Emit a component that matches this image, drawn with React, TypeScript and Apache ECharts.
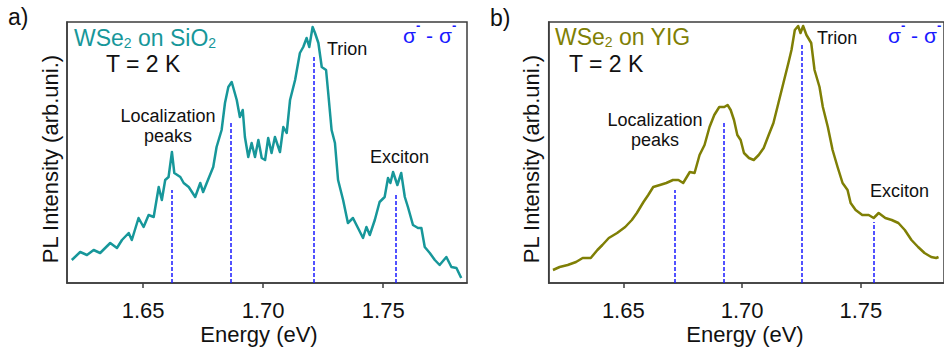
import React, { useEffect, useRef } from "react";
import * as echarts from "echarts";

// ---- Data (energy in eV, intensity in arbitrary units) ----
const energyA = [1.6203,1.6238,1.6266,1.6294,1.6321,1.6363,1.6391,1.6412,1.644,1.6453,1.6481,1.6502,1.6523,1.6544,1.6565,1.6578,1.6592,1.6606,1.662,1.663,1.6655,1.6669,1.669,1.6717,1.6738,1.675,1.6765,1.6792,1.6806,1.6827,1.6841,1.6855,1.6869,1.689,1.6903,1.6915,1.6924,1.6938,1.6952,1.6966,1.698,1.6994,1.7008,1.7021,1.7035,1.7049,1.707,1.7084,1.7098,1.7112,1.7133,1.7153,1.7167,1.7181,1.7192,1.7206,1.7216,1.723,1.7244,1.7262,1.7271,1.7285,1.7299,1.7312,1.7333,1.7353,1.7374,1.7395,1.7416,1.743,1.7444,1.7465,1.7485,1.7506,1.752,1.753,1.7541,1.7559,1.7575,1.759,1.7603,1.7624,1.7645,1.7659,1.7673,1.7694,1.7715,1.7735,1.7763,1.7784,1.7805,1.7825];
const intensityA = [23,31,28,33,30,40,35,43,50,43,65,56,68,66,96,83,103,106,131,110,106,100,96,86,100,91,100,116,136,153,180,196,201,183,166,173,146,126,140,126,143,125,123,145,130,146,131,156,150,183,203,230,236,245,236,256,250,240,216,213,190,153,140,103,83,60,65,55,45,56,48,63,81,86,105,100,111,98,110,86,76,58,55,55,36,30,23,18,26,16,15,5];

const energyB = [1.6204,1.6232,1.6266,1.6301,1.6329,1.6363,1.6391,1.6412,1.6439,1.6474,1.6508,1.6536,1.6557,1.6585,1.6605,1.6626,1.6654,1.6681,1.6709,1.6732,1.6752,1.678,1.68,1.6821,1.6842,1.6863,1.6883,1.6904,1.6925,1.6939,1.6952,1.6966,1.698,1.6994,1.7008,1.7029,1.7049,1.707,1.7091,1.7112,1.7132,1.7153,1.7174,1.7195,1.7208,1.7222,1.7236,1.7246,1.7257,1.7271,1.7291,1.7305,1.7326,1.734,1.7361,1.7381,1.7402,1.7423,1.7444,1.7457,1.7478,1.7506,1.7533,1.7554,1.7575,1.7603,1.763,1.7658,1.7685,1.7713,1.7741,1.7768,1.7796,1.7817,1.7827];
const intensityB = [13,16,18,21,25,25,33,38,45,50,56,63,70,81,88,96,98,100,103,103,100,111,110,128,138,156,168,176,176,178,173,163,148,143,130,125,123,128,135,148,160,180,200,220,233,253,257,250,257,248,240,213,196,176,156,133,116,100,93,80,73,68,68,65,70,65,63,60,53,43,36,30,26,25,26];

const peakEnergyA = [1.662, 1.6866, 1.7209, 1.7553];
const peakTopA = [93, 160, 227, 89];
const peakEnergyB = [1.6715, 1.6922, 1.7251, 1.7556];
const peakTopB = [93, 160, 240, 61];

const tickValues = [1.65, 1.7, 1.75];
const xRangeA = [1.6183, 1.7849];
const xRangeB = [1.6186, 1.785];
const yRange = [0, 261];

const TEAL = "#17979a";
const OLIVE = "#7f7f05";
const BLUE = "#1a1aff";
const AXIS = "#3c3c3c";
const FONT = "Arial, 'Liberation Sans', Helvetica, sans-serif";

function pairs(xs: number[], ys: number[]) {
  return xs.map((x, i) => [x, ys[i]]);
}

let measureCtx: CanvasRenderingContext2D | null = null;
function measure(text: string, size: number, weight = "normal") {
  if (!measureCtx) measureCtx = document.createElement("canvas").getContext("2d");
  if (!measureCtx) return text.length * size * 0.55;
  measureCtx.font = `${weight} ${size}px ${FONT}`;
  return measureCtx.measureText(text).width;
}

function markLines(es: number[], tops: number[]) {
  return {
    silent: true,
    symbol: "none",
    label: { show: false },
    lineStyle: { color: BLUE, type: [4, 2], width: 1.5 },
    data: es.map((e, i) => [{ coord: [e, 0] }, { coord: [e, tops[i]] }]),
  };
}

function xAxis(gridIndex: number, range: number[]) {
  return {
    type: "value",
    gridIndex,
    min: range[0],
    max: range[1],
    axisLine: { show: true, lineStyle: { color: AXIS, width: 1.5 } },
    axisTick: { show: true, length: 5, lineStyle: { color: AXIS, width: 1.5 }, customValues: tickValues },
    axisLabel: {
      show: true,
      customValues: tickValues,
      formatter: (v: number) => v.toFixed(2),
      fontSize: 22,
      fontFamily: FONT,
      color: "#111",
      margin: 16,
    },
    splitLine: { show: false },
  };
}

function yAxis(gridIndex: number) {
  return {
    type: "value",
    gridIndex,
    min: yRange[0],
    max: yRange[1],
    axisLine: { show: true, lineStyle: { color: AXIS, width: 1.5 } },
    axisTick: { show: false },
    axisLabel: { show: false },
    splitLine: { show: false },
  };
}

function txt(text: string, x: number, y: number, size: number, fill: string, align = "left", extra: any = {}, weight = "normal") {
  return {
    type: "text",
    x,
    y,
    silent: true,
    ...extra,
    style: { text, font: `${weight} ${size}px ${FONT}`, fill, align, verticalAlign: "middle" },
  };
}

// segments: [text, kind] where kind 0 = normal, 1 = subscript, 2 = superscript
function composite(segs: [string, number][], x: number, y: number, size: number, small: number, color: string, subDy: number, supDy: number) {
  const out: any[] = [];
  let cx = x;
  segs.forEach(([t, kind]) => {
    const s = kind === 0 ? size : small;
    const w = kind === 2 ? "bold" : "normal";
    const dy = kind === 1 ? subDy : kind === 2 ? supDy : 0;
    out.push(txt(t, cx, y + dy, s, color, "left", {}, w));
    cx += measure(t, s, w);
  });
  return out;
}

export default function App() {
  const ref = useRef<HTMLDivElement>(null);
  useEffect(() => {
    if (!ref.current) return;
    const chart = echarts.init(ref.current, undefined, { renderer: "svg" });
    chart.setOption({
      animation: false,
      backgroundColor: "#ffffff",
      grid: [
        { left: 67, top: 22, width: 400, height: 261, show: true, borderColor: AXIS, borderWidth: 1.5, backgroundColor: "transparent" },
        { left: 548.7, top: 22, width: 401, height: 261, show: true, borderColor: AXIS, borderWidth: 1.5, backgroundColor: "transparent" },
      ],
      xAxis: [xAxis(0, xRangeA), xAxis(1, xRangeB)],
      yAxis: [yAxis(0), yAxis(1)],
      series: [
        {
          type: "line",
          xAxisIndex: 0,
          yAxisIndex: 0,
          data: pairs(energyA, intensityA),
          showSymbol: false,
          lineStyle: { color: TEAL, width: 2.5, join: "round" },
          markLine: markLines(peakEnergyA, peakTopA),
          z: 3,
        },
        {
          type: "line",
          xAxisIndex: 1,
          yAxisIndex: 1,
          data: pairs(energyB, intensityB),
          showSymbol: false,
          lineStyle: { color: OLIVE, width: 2.5, join: "round" },
          markLine: markLines(peakEnergyB, peakTopB),
          z: 3,
        },
      ],
      graphic: [
        txt("a)", 8, 17, 23, "#111"),
        txt("b)", 490, 18, 23, "#111"),
        ...composite([["WSe", 0], ["2", 1], [" on SiO", 0], ["2", 1]], 74, 37.5, 23, 14, TEAL, 5, 0),
        ...composite([["WSe", 0], ["2", 1], [" on YIG", 0]], 555, 37, 23, 14, OLIVE, 5, 0),
        txt("T = 2 K", 106, 63.5, 23, "#111"),
        txt("T = 2 K", 569, 64, 23, "#111"),
        txt("Trion", 327, 49, 18, "#111"),
        txt("Trion", 817, 37.5, 18, "#111"),
        txt("Exciton", 370, 156.5, 18, "#111"),
        txt("Exciton", 870, 190.5, 18, "#111"),
        txt("Localization", 168, 116, 18, "#111", "center"),
        txt("peaks", 168, 135.5, 18, "#111", "center"),
        txt("Localization", 655, 120, 18, "#111", "center"),
        txt("peaks", 655, 139.5, 18, "#111", "center"),
        ...composite([["σ", 0], ["-", 2], [" - σ", 0], ["-", 2]], 403, 35, 21, 13, BLUE, 0, -10),
        ...composite([["σ", 0], ["-", 2], [" - σ", 0], ["-", 2]], 888, 35, 21, 13, BLUE, 0, -10),
        txt("Energy (eV)", 259, 334, 22, "#111", "center"),
        txt("Energy (eV)", 745, 334, 22, "#111", "center"),
        txt("PL Intensity (arb.uni.)", 50, 159, 22, "#111", "center", { rotation: Math.PI / 2 }),
        txt("PL Intensity (arb.uni.)", 531, 159, 22, "#111", "center", { rotation: Math.PI / 2 }),
      ],
    });
    return () => chart.dispose();
  }, []);
  return (
    <div
      ref={ref}
      style={{ position: "absolute", left: 0, top: 0, width: 944, height: 349, background: "#fff" }}
    />
  );
}
